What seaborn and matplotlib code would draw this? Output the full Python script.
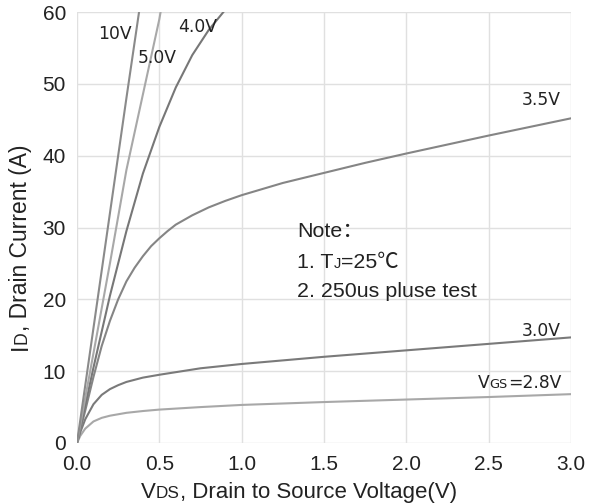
import matplotlib
matplotlib.use("Agg")
import matplotlib.pyplot as plt
import seaborn as sns
import pandas as pd

# ---- data ----
vds_28 = [0, 0.02, 0.05, 0.1, 0.15, 0.2, 0.25, 0.3, 0.4, 0.5, 0.75, 1.0, 1.5, 2.0, 2.5, 3.0]
id_28 = [0, 1.0, 2.0, 3.0, 3.5, 3.8, 4.0, 4.2, 4.45, 4.65, 5.0, 5.3, 5.7, 6.05, 6.4, 6.8]

vds_30 = [0, 0.02, 0.05, 0.1, 0.15, 0.2, 0.25, 0.3, 0.4, 0.5, 0.75, 1.0, 1.5, 2.0, 2.5, 3.0]
id_30 = [0, 1.5, 3.3, 5.4, 6.7, 7.5, 8.05, 8.5, 9.1, 9.5, 10.4, 11.0, 12.0, 12.9, 13.8, 14.7]

vds_35 = [0, 0.05, 0.1, 0.15, 0.2, 0.25, 0.3, 0.35, 0.4, 0.45, 0.5, 0.55, 0.6, 0.7, 0.8, 0.9,
          1.0, 1.25, 1.5, 1.75, 2.0, 2.5, 3.0]
id_35 = [0, 4.5, 9.2, 13.5, 17.0, 20.0, 22.5, 24.4, 26.0, 27.4, 28.5, 29.5, 30.4, 31.7, 32.8, 33.7,
         34.5, 36.2, 37.6, 39.0, 40.3, 42.8, 45.2]

vds_40 = [0, 0.1, 0.2, 0.3, 0.4, 0.5, 0.6, 0.7, 0.8, 0.9]
id_40 = [0, 10.5, 20.5, 29.5, 37.5, 44.0, 49.5, 54.0, 57.5, 60.3]

vds_50 = [0, 0.1, 0.2, 0.3, 0.4, 0.5, 0.51]
id_50 = [0, 12.5, 25.0, 38.0, 48.5, 59.0, 60.3]

vds_10 = [0, 0.1, 0.2, 0.3, 0.38]
id_10 = [0, 16.0, 32.0, 48.0, 60.5]

x_ticks = [0.0, 0.5, 1.0, 1.5, 2.0, 2.5, 3.0]
y_ticks = [0, 10, 20, 30, 40, 50, 60]

curves = [
    ("2.8V", vds_28, id_28, "#a8a8a8"),
    ("3.0V", vds_30, id_30, "#7a7a7a"),
    ("3.5V", vds_35, id_35, "#858585"),
    ("4.0V", vds_40, id_40, "#777777"),
    ("5.0V", vds_50, id_50, "#a8a8a8"),
    ("10V", vds_10, id_10, "#8a8a8a"),
]

sns.set_theme(style="white")
plt.rcParams['font.family'] = ['Liberation Sans', 'Noto Sans CJK SC', 'DejaVu Sans']

fig = plt.figure(figsize=(5.91, 5.04), dpi=100)
ax = fig.add_axes([77/591, 61/504, (571-77)/591, (443-12)/504])

for name, xs, ys, col in curves:
    df = pd.DataFrame({"VDS": xs, "ID": ys})
    sns.lineplot(data=df, x="VDS", y="ID", ax=ax, color=col, linewidth=1.5,
                 sort=False, estimator=None, zorder=3)

ax.set_xlim(0, 3.0)
ax.set_ylim(0, 60)
ax.set_xticks(x_ticks)
ax.set_xticklabels([f"{v:.1f}" for v in x_ticks])
ax.set_yticks(y_ticks)
ax.set_yticklabels([str(v) for v in y_ticks])
ax.grid(True, color="#e0e0e0", linewidth=1.0, zorder=0)
for s in ax.spines.values():
    s.set_visible(False)
ax.tick_params(axis="both", labelsize=15, colors="#222222", length=0)
ax.tick_params(axis="x", pad=9)
ax.tick_params(axis="y", pad=8)
ax.set_xlabel("")
ax.set_ylabel("")

# curve labels
lab_font = dict(family=['DejaVu Sans'], fontsize=12.3, color="#222222")
ax.text(0.228, 57.0, "10V", ha="center", va="center", **lab_font)
ax.text(0.484, 53.6, "5.0V", ha="center", va="center", **lab_font)
ax.text(0.730, 57.9, "4.0V", ha="center", va="center", **lab_font)
ax.text(2.94, 47.8, "3.5V", ha="right", va="center", **lab_font)
ax.text(2.94, 15.6, "3.0V", ha="right", va="center", **lab_font)

fig.canvas.draw()
renderer = fig.canvas.get_renderer()

def runs(x, y, parts, rotation=0, color="#222222", family=None, ha="left"):
    """parts: list of (text, size). x,y in figure pixels (baseline-left)."""
    objs = []
    cx, cy = x, y
    for txt, size in parts:
        kw = dict(fontsize=size, color=color, rotation=rotation,
                  rotation_mode="anchor", ha="left", va="baseline",
                  transform=None)
        if family:
            kw["family"] = family
        t = fig.text(cx, cy, txt, **kw)
        bb = t.get_window_extent(renderer)
        if rotation == 90:
            cy += bb.height
        else:
            cx += bb.width
        objs.append(t)
    if ha == "right":
        shift = cx - x
        for t in objs:
            px, py = t.get_position()
            t.set_position((px - shift, py))
    return objs

H = 504
# VGS=2.8V label, right aligned
p = ax.transData.transform((2.94, 7.6))
runs(p[0], p[1], [("V", 12.3), ("GS", 9.3), ("=2.8V", 12.3)],
     family=['DejaVu Sans'], ha="right")

# x label
runs(141, H - 498, [("V", 16), ("DS", 12.3), (", Drain to Source Voltage(V)", 16)])
# y label
runs(27, H - 350, [("I", 16.5), ("D", 12.7), (", Drain Current (A)", 16.5)], rotation=90)

# note
nf = ['Liberation Sans', 'Noto Sans CJK SC', 'DejaVu Sans']
runs(297, H - 237, [("Note：", 15.4)], family=nf)
runs(297, H - 268, [("1. T", 15.4), ("J", 10.5), ("=25℃", 15.4)], family=nf)
runs(297, H - 297, [("2. 250us pluse test", 15.4)], family=nf)

fig.savefig("out.png", dpi=100)
